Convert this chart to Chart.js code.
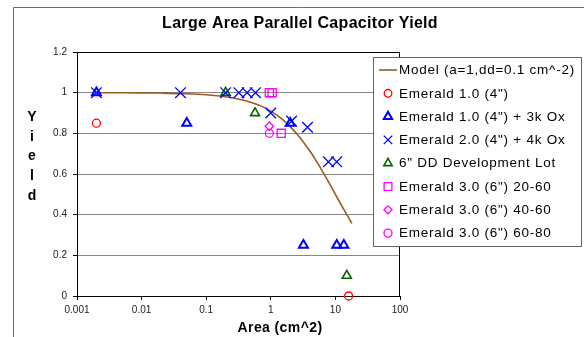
<!DOCTYPE html>
<html>
<head>
<meta charset="utf-8">
<script src="https://cdn.jsdelivr.net/npm/chart.js@4/dist/chart.umd.min.js"></script>
<style>
html,body{margin:0;padding:0;background:#fff;}
canvas{display:block;}
</style>
</head>
<body>
<canvas id="c" width="584" height="337"></canvas>
<script>
// ---- Data ----
const chartTitle = 'Large Area Parallel Capacitor Yield';
const xAxisTitle = 'Area (cm^2)';
const yAxisTitle = 'Yield';
const xTickVals = [0.001, 0.01, 0.1, 1, 10, 100];
const xTickLabels = ['0.001', '0.01', '0.1', '1', '10', '100'];
const yTickLabels = ['0', '0.2', '0.4', '0.6', '0.8', '1', '1.2'];

const seriesNames = [
  'Model (a=1,dd=0.1 cm^-2)',
  'Emerald 1.0 (4")',
  'Emerald 1.0 (4") + 3k Ox',
  'Emerald 2.0 (4") + 4k Ox',
  '6" DD Development Lot',
  'Emerald 3.0 (6") 20-60',
  'Emerald 3.0 (6") 40-60',
  'Emerald 3.0 (6") 60-80'
];

const modelX = [0.002, 0.005, 0.01, 0.02, 0.05, 0.1, 0.2, 0.3, 0.5, 0.7, 1, 1.5, 2, 3, 4, 5, 7, 10, 13, 18];
const modelY = [1.0, 0.9995, 0.999, 0.998, 0.995, 0.99, 0.98, 0.97, 0.952, 0.935, 0.909, 0.87, 0.833, 0.769, 0.714, 0.667, 0.588, 0.5, 0.435, 0.357];

const em1X = [0.002, 16];
const em1Y = [0.85, 0];

const em1OxX = [0.002, 0.05, 2, 3.2, 10.5, 13.5];
const em1OxY = [1, 0.85, 0.85, 0.25, 0.25, 0.25];

const em2OxX = [0.002, 0.04, 0.2, 0.32, 0.43, 0.58, 1, 2.1, 3.7, 7.8, 10.5];
const em2OxY = [1, 1, 1, 1, 1, 1, 0.9, 0.86, 0.83, 0.66, 0.66];

const ddX = [0.2, 0.57, 15];
const ddY = [1, 0.9, 0.1];

const em3aX = [0.95, 1.05, 1.45];
const em3aY = [1, 1, 0.8];

const em3bX = [0.95];
const em3bY = [0.835];

const em3cX = [0.95];
const em3cY = [0.8];

function pts(xs, ys) { return xs.map((x, i) => ({x: x, y: ys[i]})); }

const FONT = '"Liberation Sans", Arial, Helvetica, sans-serif';

const styles = [
  {color: '#9A5B22', style: 'line'},
  {color: '#FF0000', style: 'circle', r: 4, lr: 3.8, w: 1.3},
  {color: '#0000FF', style: 'triangle', r: 5.2, lr: 4.8, w: 2},
  {color: '#0000FF', style: 'crossRot', r: 7.5, lr: 6, w: 1.3},
  {color: '#006600', style: 'triangle', r: 5.2, lr: 4.8, w: 1.6},
  {color: '#FF00FF', style: 'rect', r: 5.8, lr: 5.5, w: 1.3},
  {color: '#FF00FF', style: 'rectRot', r: 4.2, lr: 4, w: 1.3},
  {color: '#FF00FF', style: 'circle', r: 4, lr: 4, w: 1.3}
];

const dataSets = [
  pts(modelX, modelY), pts(em1X, em1Y), pts(em1OxX, em1OxY), pts(em2OxX, em2OxY),
  pts(ddX, ddY), pts(em3aX, em3aY), pts(em3bX, em3bY), pts(em3cX, em3cY)
];

const datasets = dataSets.map((d, i) => {
  const s = styles[i];
  if (s.style === 'line') {
    return {label: seriesNames[i], data: d, showLine: true, borderColor: s.color, borderWidth: 1.6,
      pointRadius: 0, cubicInterpolationMode: 'monotone', order: 10, clip: false};
  }
  return {label: seriesNames[i], data: d, showLine: false, pointStyle: s.style, pointRadius: s.r,
    pointBorderColor: s.color, pointBackgroundColor: 'rgba(0,0,0,0)', pointBorderWidth: s.w,
    pointHoverRadius: s.r, order: 1, clip: false};
});

const decorPlugin = {
  id: 'decor',
  beforeDraw(chart) {
    const ctx = chart.ctx;
    ctx.save();
    ctx.fillStyle = '#fff';
    ctx.fillRect(0, 0, chart.width, chart.height);
    ctx.strokeStyle = '#6e6e6e';
    ctx.lineWidth = 1;
    ctx.beginPath();
    ctx.moveTo(13.5, chart.height);
    ctx.lineTo(13.5, 7.5);
    ctx.lineTo(chart.width, 7.5);
    ctx.stroke();
    ctx.restore();
  },
  beforeDatasetsDraw(chart) {
    const a = chart.chartArea;
    const ctx = chart.ctx;
    ctx.save();
    ctx.strokeStyle = '#000';
    ctx.lineWidth = 1;
    ctx.beginPath();
    ctx.moveTo(Math.round(a.left) + 0.5, Math.round(a.top) + 0.5);
    ctx.lineTo(Math.round(a.right) - 0.5, Math.round(a.top) + 0.5);
    ctx.lineTo(Math.round(a.right) - 0.5, Math.round(a.bottom));
    ctx.stroke();
    ctx.restore();
  },
  afterDraw(chart) {
    const ctx = chart.ctx;
    ctx.save();
    // title
    ctx.fillStyle = '#000';
    ctx.font = 'bold 16px ' + FONT;
    if ('letterSpacing' in ctx) ctx.letterSpacing = '0.3px';
    ctx.textAlign = 'center';
    ctx.textBaseline = 'middle';
    ctx.fillText(chartTitle, 300, 24);
    // x axis title
    ctx.font = 'bold 14px ' + FONT;
    if ('letterSpacing' in ctx) ctx.letterSpacing = '0.4px';
    ctx.fillText(xAxisTitle, 280, 328);
    // y axis title stacked letters
    if ('letterSpacing' in ctx) ctx.letterSpacing = '0px';
    const letters = yAxisTitle.split('');
    letters.forEach((ch, i) => ctx.fillText(ch, 32, 117 + i * 19.8));
    // legend
    const lx = 373.5, ly = 57.5, lw = 208, lh = 189;
    ctx.fillStyle = '#fff';
    ctx.fillRect(lx, ly, lw, lh);
    ctx.strokeStyle = '#666';
    ctx.lineWidth = 1;
    ctx.strokeRect(lx, ly, lw, lh);
    ctx.font = '13.5px ' + FONT;
    if ('letterSpacing' in ctx) ctx.letterSpacing = '0.75px';
    ctx.textAlign = 'left';
    ctx.textBaseline = 'middle';
    seriesNames.forEach((name, i) => {
      const y = 70 + i * 23.3;
      const s = styles[i];
      if (s.style === 'line') {
        ctx.strokeStyle = s.color;
        ctx.lineWidth = 1.6;
        ctx.beginPath();
        ctx.moveTo(379, y);
        ctx.lineTo(397, y);
        ctx.stroke();
      } else {
        ctx.strokeStyle = s.color;
        ctx.fillStyle = 'rgba(0,0,0,0)';
        ctx.lineWidth = s.w;
        Chart.helpers.drawPoint(ctx, {pointStyle: s.style, radius: s.lr, rotation: 0, borderWidth: s.w}, 388, y);
      }
      ctx.fillStyle = '#000';
      ctx.fillText(name, 399, y + 0.5);
    });
    ctx.restore();
  }
};

new Chart(document.getElementById('c'), {
  type: 'scatter',
  data: {datasets: datasets},
  options: {
    responsive: false,
    devicePixelRatio: 1,
    animation: false,
    events: [],
    layout: {padding: {left: 0, right: 184, top: 52, bottom: 0}},
    plugins: {legend: {display: false}, title: {display: false}, tooltip: {enabled: false}},
    scales: {
      x: {
        type: 'logarithmic', min: 0.001, max: 100,
        afterBuildTicks: (s) => { s.ticks = xTickVals.map(v => ({value: v})); },
        afterFit: (s) => { s.height = 41; },
        ticks: {
          autoSkip: false, maxRotation: 0, minRotation: 0, padding: 4, color: '#222',
          font: {family: FONT, size: 10},
          callback: (v) => { const k = xTickVals.findIndex(t => Math.abs(t - v) / t < 1e-6); return k >= 0 ? xTickLabels[k] : ''; }
        },
        grid: {drawOnChartArea: false, tickLength: 4, tickColor: '#000', lineWidth: 1},
        border: {color: '#000', width: 1}
      },
      y: {
        type: 'linear', min: 0, max: 1.2,
        afterFit: (s) => { s.width = 77; },
        ticks: {
          stepSize: 0.2, padding: 6, color: '#222',
          font: {family: FONT, size: 10},
          callback: (v, i) => yTickLabels[i]
        },
        grid: {color: '#868686', lineWidth: 1, tickLength: 4, tickColor: '#000'},
        border: {color: '#000', width: 1}
      }
    }
  },
  plugins: [decorPlugin]
});
</script>
</body>
</html>
